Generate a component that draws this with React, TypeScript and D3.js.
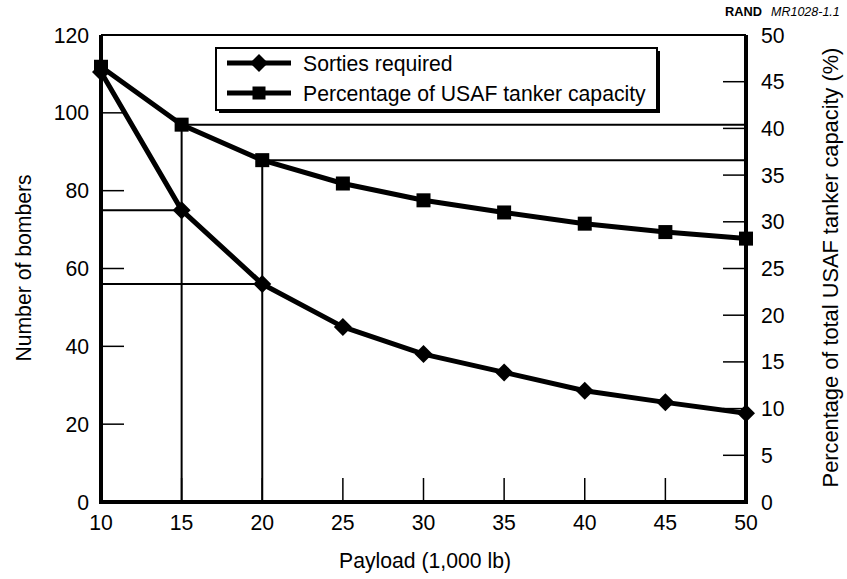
import React from "react";
import * as d3 from "d3";

const payloads = [10, 15, 20, 25, 30, 35, 40, 45, 50];
const sorties = [110.5, 75, 56, 45, 38, 33.3, 28.6, 25.6, 22.8];
const tankerPct = [46.6, 40.4, 36.6, 34.1, 32.3, 31.0, 29.8, 28.9, 28.2];
const xTicks = [10, 15, 20, 25, 30, 35, 40, 45, 50];
const leftTicks = [0, 20, 40, 60, 80, 100, 120];
const rightTicks = [0, 5, 10, 15, 20, 25, 30, 35, 40, 45, 50];
const refPayloads = [15, 20];

const FONT = "'Liberation Sans', Arial, Helvetica, sans-serif";
const FS = 21.2;

export default function App() {
  const W = 847, H = 579;
  const x = d3.scaleLinear().domain([10, 50]).range([101, 746]);
  const yL = d3.scaleLinear().domain([0, 120]).range([502, 35]);
  const yR = d3.scaleLinear().domain([0, 50]).range([502, 35]);

  const lineL = d3.line<number>().x((_, i) => x(payloads[i])).y((d) => yL(d));
  const lineR = d3.line<number>().x((_, i) => x(payloads[i])).y((d) => yR(d));

  const diamond = (cx: number, cy: number, r = 9) =>
    `M${cx},${cy - r}L${cx + r},${cy}L${cx},${cy + r}L${cx - r},${cy}Z`;
  const sq = 14;

  const x0 = x(10), x1 = x(50), yb = yL(0), yt = yL(120);

  return (
    <svg width={W} height={H} style={{ display: "block", position: "absolute", left: 0, top: 0 }} fontFamily={FONT}>
      <rect x={0} y={0} width={W} height={H} fill="#fff" />
      {/* RAND label */}
      <text x={762} y={16} textAnchor="end" fontSize={12.8} fontWeight="bold">RAND</text>
      <text x={771} y={16} fontSize={12.5} fontStyle="italic">MR1028-1.1</text>

      {/* top border */}
      <line x1={x0} x2={x1} y1={yt} y2={yt} stroke="#000" strokeWidth={2} />

      {/* reference lines */}
      {refPayloads.map((p) => {
        const i = payloads.indexOf(p);
        return (
          <g key={p} stroke="#000" strokeWidth={2}>
            <line x1={x(p)} x2={x(p)} y1={yb} y2={yR(tankerPct[i])} />
            <line x1={x(p)} x2={x1} y1={yR(tankerPct[i])} y2={yR(tankerPct[i])} />
            <line x1={x0} x2={x(p)} y1={yL(sorties[i])} y2={yL(sorties[i])} />
          </g>
        );
      })}

      {/* ticks */}
      {leftTicks.slice(1, -1).map((t) => (
        <line key={"lt" + t} x1={x0} x2={x0 + 23} y1={yL(t)} y2={yL(t)} stroke="#000" strokeWidth={1.5} />
      ))}
      {rightTicks.slice(1, -1).map((t) => (
        <line key={"rt" + t} x1={x1 - 23} x2={x1} y1={yR(t)} y2={yR(t)} stroke="#000" strokeWidth={1.5} />
      ))}
      {xTicks.slice(1, -1).map((t) => (
        <line key={"xt" + t} x1={x(t)} x2={x(t)} y1={yb} y2={yb - 24} stroke="#000" strokeWidth={1.5} />
      ))}

      {/* axes */}
      <line x1={x0} x2={x0} y1={yt} y2={yb + 2} stroke="#000" strokeWidth={4} />
      <line x1={x1} x2={x1} y1={yt} y2={yb + 2} stroke="#000" strokeWidth={4} />
      <line x1={x0 - 2} x2={x1 + 2} y1={yb} y2={yb} stroke="#000" strokeWidth={4} />

      {/* tick labels */}
      {leftTicks.map((t) => (
        <text key={"ll" + t} x={89} y={yL(t) + 7.5} textAnchor="end" fontSize={FS}>{t}</text>
      ))}
      {rightTicks.map((t) => (
        <text key={"rl" + t} x={761} y={yR(t) + 7.5} fontSize={FS}>{t}</text>
      ))}
      {xTicks.map((t) => (
        <text key={"xl" + t} x={x(t)} y={530} textAnchor="middle" fontSize={FS}>{t}</text>
      ))}

      {/* axis titles */}
      <text x={425} y={568} textAnchor="middle" fontSize={FS}>Payload (1,000 lb)</text>
      <text transform={`translate(31,268) rotate(-90)`} textAnchor="middle" fontSize={FS}>Number of bombers</text>
      <text transform={`translate(838,267.5) rotate(-90)`} textAnchor="middle" fontSize={21.8}>Percentage of total USAF tanker capacity (%)</text>

      {/* series */}
      <path d={lineR(tankerPct) || ""} fill="none" stroke="#000" strokeWidth={5} strokeLinejoin="round" />
      <path d={lineL(sorties) || ""} fill="none" stroke="#000" strokeWidth={5} strokeLinejoin="round" />
      {tankerPct.map((v, i) => (
        <rect key={"s" + i} x={x(payloads[i]) - sq / 2} y={yR(v) - sq / 2} width={sq} height={sq} fill="#000" />
      ))}
      {sorties.map((v, i) => (
        <path key={"d" + i} d={diamond(x(payloads[i]), yL(v))} fill="#000" />
      ))}

      {/* legend */}
      <rect x={219} y={51} width={441} height={62} fill="#000" />
      <rect x={216} y={48} width={441} height={62} fill="#fff" stroke="#000" strokeWidth={2} />
      <line x1={227} x2={291} y1={63} y2={63} stroke="#000" strokeWidth={5} />
      <path d={diamond(259, 63)} fill="#000" />
      <text x={303} y={70.5} fontSize={FS}>Sorties required</text>
      <line x1={227} x2={291} y1={93} y2={93} stroke="#000" strokeWidth={5} />
      <rect x={259 - 6.5} y={93 - 6.5} width={13} height={13} fill="#000" />
      <text x={303} y={100.5} fontSize={FS}>Percentage of USAF tanker capacity</text>
    </svg>
  );
}
